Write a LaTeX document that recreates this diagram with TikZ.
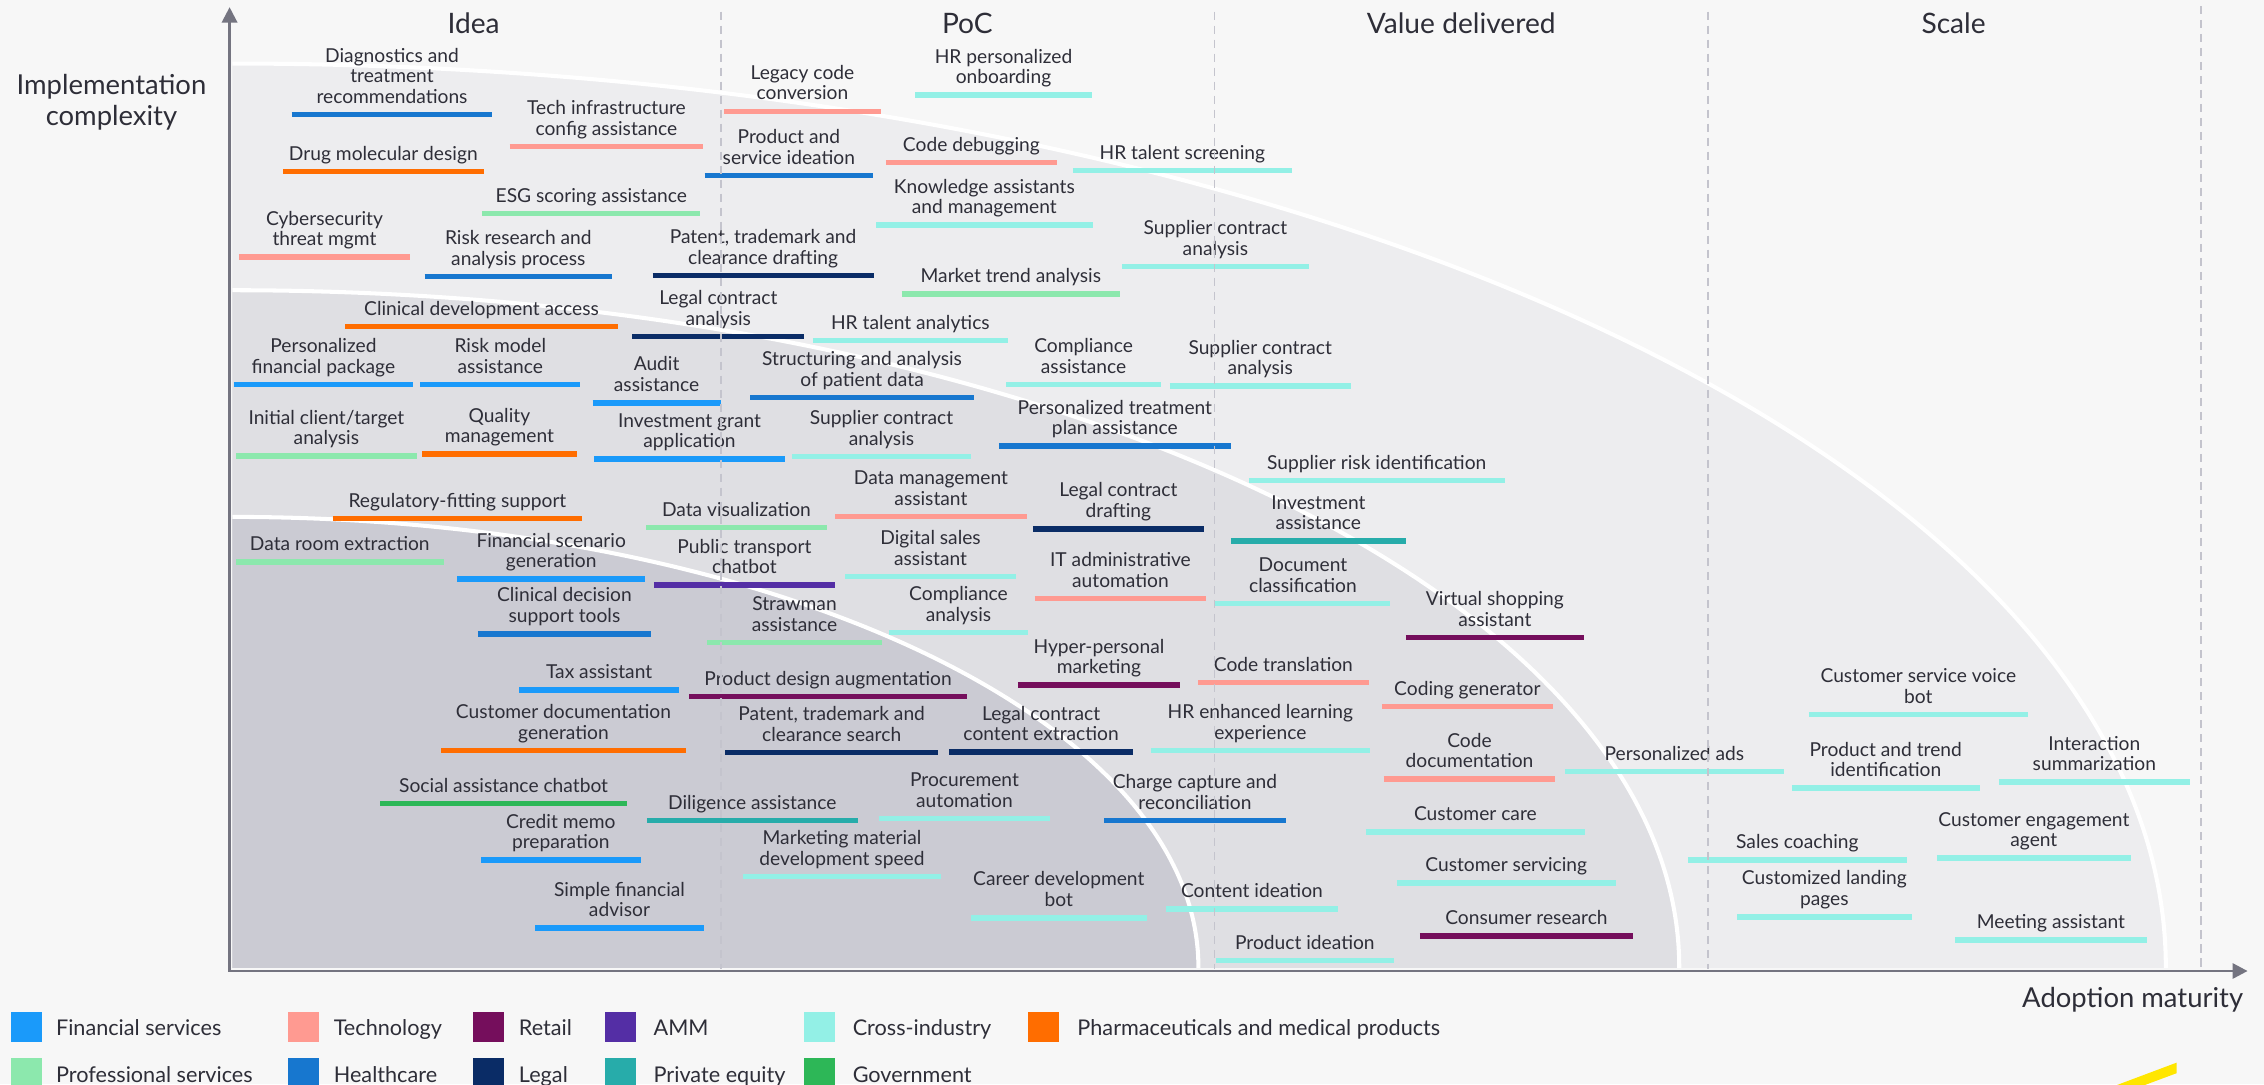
\documentclass[tikz,border=0pt]{standalone}
\usepackage{fontspec}
\setmainfont{Lato}
\usetikzlibrary{arrows.meta}
\definecolor{pagebg}{HTML}{F7F7F7}
\definecolor{regA}{HTML}{EDEDEF}
\definecolor{regB}{HTML}{DFDFE3}
\definecolor{regC}{HTML}{CBCBD3}
\definecolor{ctext}{HTML}{2E2E38}
\definecolor{caxis}{HTML}{747480}
\definecolor{cdiv}{HTML}{C4C4CD}
\definecolor{cfin}{HTML}{1A9AFA}
\definecolor{ctech}{HTML}{FF9A91}
\definecolor{cretail}{HTML}{750E5C}
\definecolor{camm}{HTML}{542EA5}
\definecolor{ccross}{HTML}{93F0E6}
\definecolor{cpharma}{HTML}{FF6D00}
\definecolor{cprof}{HTML}{8CE8AD}
\definecolor{chc}{HTML}{1777CF}
\definecolor{clegal}{HTML}{0A2C66}
\definecolor{cpe}{HTML}{27ACAA}
\definecolor{cgov}{HTML}{2DB757}
\definecolor{cyell}{HTML}{FFE600}
\newcommand\uc[6]{%
  \draw[usebar,#2] (#3,#5) -- (#4,#5);
  \node[lbl] (#1) at ({(#3+#4)/2},{#5-3.3}) {#6\strut};}
\begin{document}
\begin{tikzpicture}[x=1pt,y=-1pt,
  usebar/.style={line width=3.7pt},
  lbl/.style={anchor=south,inner sep=0pt,align=center,text=ctext,font=\fontsize{13.3}{14.3}\selectfont},
  head/.style={anchor=base,inner sep=0pt,text=ctext,font=\fontsize{19.5}{22}\selectfont},
  axtitle/.style={inner sep=0pt,align=center,text=ctext,font=\fontsize{19}{22}\selectfont},
  leg/.style={anchor=base west,inner sep=0pt,text=ctext,font=\fontsize{15}{17}\selectfont},
  arcline/.style={draw=white,line width=2.8pt},
  divider/.style={draw=cdiv,line width=1.1pt,dash pattern=on 5.8pt off 3.9pt},
  axisline/.style={draw=caxis,line width=1.6pt}]
\useasboundingbox (0,0) rectangle (1568,751);
\fill[pagebg] (0,0) rectangle (1568,751);
% regions
\begin{scope}
\clip (161,0) rectangle (1568,670);
\fill[regA] (161,670) ellipse [x radius=1339, y radius=626];
\draw[arcline] (161,670) ellipse [x radius=1339, y radius=626];
\fill[regB] (161,670) ellipse [x radius=1002, y radius=469];
\draw[arcline] (161,670) ellipse [x radius=1002, y radius=469];
\fill[regC] (161,670) ellipse [x radius=669, y radius=312];
\draw[arcline] (161,670) ellipse [x radius=669, y radius=312];
\end{scope}
% items
\uc{t1}{chc}{202}{341}{79.5}{Diagnostics and\\treatment\\recommendations}
\uc{t2}{ctech}{353}{487}{101.5}{Tech infrastructure\\config assistance}
\uc{t3}{cpharma}{196}{335}{119}{Drug molecular design}
\uc{t4}{cprof}{334}{485}{148}{ESG scoring assistance}
\uc{t5}{ctech}{165.5}{284}{178}{Cybersecurity\\threat mgmt}
\uc{t6}{chc}{294}{424}{191.5}{Risk research and\\analysis process}
\uc{t7}{clegal}{452}{605}{191}{Patent, trademark and\\clearance drafting}
\uc{t8}{cpharma}{239}{428}{226}{Clinical development access}
\uc{t9}{clegal}{438}{557}{233}{Legal contract\\analysis}
\uc{t10}{cfin}{162}{286}{266.5}{Personalized\\financial package}
\uc{t11}{cfin}{291}{402}{266.5}{Risk model\\assistance}
\uc{t12}{cfin}{410.5}{499}{279}{Audit\\assistance}
\uc{t13}{ctech}{501.5}{610}{77}{Legacy code\\conversion}
\uc{t14}{ccross}{634}{756}{65.8}{HR personalized\\onboarding}
\uc{t15}{chc}{488}{604.7}{121.7}{Product and\\service ideation}
\uc{t16}{ctech}{613.6}{732}{112.7}{Code debugging}
\uc{t17}{ccross}{743}{894.7}{118.2}{HR talent screening}
\uc{t18}{ccross}{606.8}{756.7}{155.8}{Knowledge assistants\\and management}
\uc{t19}{ccross}{777}{906.5}{184.7}{Supplier contract\\analysis}
\uc{t20}{cprof}{624.6}{775.6}{203.6}{Market trend analysis}
\uc{t21}{ccross}{563}{698}{236}{HR talent analytics}
\uc{t22}{ccross}{697}{804}{266.4}{Compliance\\assistance}
\uc{t23}{ccross}{810}{935.6}{267.3}{Supplier contract\\analysis}
\uc{t24}{chc}{519.6}{674.5}{275.4}{Structuring and analysis\\of patient data}
\uc{t25}{cprof}{163.5}{288.6}{315.8}{Initial client/target\\analysis}
\uc{t26}{cpharma}{292.4}{399.4}{314.4}{Quality\\management}
\uc{t27}{cfin}{411.5}{543.6}{317.9}{Investment grant\\application}
\uc{t28}{ccross}{548.5}{672.5}{316.3}{Supplier contract\\analysis}
\uc{t29}{chc}{691.8}{852.5}{308.9}{Personalized treatment\\plan assistance}
\uc{t30}{ccross}{865}{1042}{332.9}{Supplier risk identification}
\uc{t31}{cpharma}{230.6}{403}{359.2}{Regulatory-fitting support}
\uc{t32}{cprof}{447.5}{572.6}{365.4}{Data visualization}
\uc{t33}{ctech}{578.3}{711.2}{357.8}{Data management\\assistant}
\uc{t34}{clegal}{715.4}{833.8}{366.3}{Legal contract\\drafting}
\uc{t35}{cpe}{852.5}{973.7}{374.7}{Investment\\assistance}
\uc{t36}{cprof}{163.5}{307.2}{389.2}{Data room extraction}
\uc{t37}{cfin}{316.6}{446.9}{401}{Financial scenario\\generation}
\uc{t38}{camm}{452.8}{578.3}{405.1}{Public transport\\chatbot}
\uc{t39}{ccross}{585.3}{703.7}{399.4}{Digital sales\\assistant}
\uc{t40}{ctech}{716.8}{835.2}{414.6}{IT administrative\\automation}
\uc{t41}{ccross}{841.8}{963}{418}{Document\\classification}
\uc{t42}{chc}{331}{450.8}{439}{Clinical decision\\support tools}
\uc{t43}{cprof}{489.7}{610.8}{445}{Strawman\\assistance}
\uc{t44}{ccross}{615.5}{712.2}{438.1}{Compliance\\analysis}
\uc{t45}{cretail}{973.7}{1097}{441.6}{Virtual shopping\\assistant}
\uc{t46}{cretail}{705}{817.2}{474.4}{Hyper-personal\\marketing}
\uc{t47}{ctech}{829.7}{948}{472.8}{Code translation}
\uc{t48}{cfin}{359.6}{470.3}{477.8}{Tax assistant}
\uc{t49}{cretail}{477.3}{669.7}{482.5}{Product design augmentation}
\uc{t50}{ctech}{957}{1075.5}{489.4}{Coding generator}
\uc{t51}{ccross}{1252.8}{1404.4}{494.9}{Customer service voice\\bot}
\uc{t52}{cpharma}{305.5}{475}{520}{Customer documentation\\generation}
\uc{t53}{clegal}{502.2}{649.8}{521}{Patent, trademark and\\clearance search}
\uc{t54}{clegal}{657.4}{784.7}{520.8}{Legal contract\\content extraction}
\uc{t55}{ccross}{797}{948.8}{519.9}{HR enhanced learning\\experience}
\uc{t56}{ctech}{958.5}{1077}{539.5}{Code\\documentation}
\uc{t57}{ccross}{1083.8}{1235.5}{534.4}{Personalized ads}
\uc{t58}{ccross}{1241}{1371}{545.7}{Product and trend\\identification}
\uc{t59}{ccross}{1384.4}{1516.6}{541.6}{Interaction\\summarization}
\uc{t60}{cgov}{263.2}{434.4}{556.6}{Social assistance chatbot}
\uc{t61}{cpe}{448}{594}{568.4}{Diligence assistance}
\uc{t62}{ccross}{608.7}{727.2}{567}{Procurement\\automation}
\uc{t63}{chc}{764.6}{890.6}{568.4}{Charge capture and\\reconciliation}
\uc{t64}{ccross}{946}{1097.6}{576.2}{Customer care}
\uc{t65}{cfin}{333}{443.8}{595.6}{Credit memo\\preparation}
\uc{t66}{ccross}{514.6}{651.7}{607.1}{Marketing material\\development speed}
\uc{t67}{ccross}{1169}{1320.6}{595.6}{Sales coaching}
\uc{t68}{ccross}{1341.4}{1475.8}{594.2}{Customer engagement\\agent}
\uc{t69}{ccross}{967.4}{1119}{611.5}{Customer servicing}
\uc{t70}{ccross}{1203}{1324}{635}{Customized landing\\pages}
\uc{t71}{ccross}{807.5}{926.6}{629.5}{Content ideation}
\uc{t72}{ccross}{672.5}{794.1}{635.7}{Career development\\bot}
\uc{t73}{cfin}{370.6}{487.5}{642.7}{Simple financial\\advisor}
\uc{t74}{cretail}{983.4}{1131}{648.2}{Consumer research}
\uc{t75}{ccross}{1353.9}{1486.9}{651}{Meeting assistant}
\uc{t76}{ccross}{842}{965.4}{665.3}{Product ideation}
% dividers
\draw[divider] (499.4,8) -- (499.4,671);
\draw[divider] (841.1,8) -- (841.1,671);
\draw[divider] (1182.8,8) -- (1182.8,671);
\draw[divider] (1524.2,4) -- (1524.2,671);
% axes
\coordinate (O) at (159,672.5);
\coordinate (ytip) at (159,5);
\coordinate (xtip) at (1556.6,672.5);
\draw[axisline,{Triangle[width=10.6pt,length=10.6pt]}-{Triangle[width=10.6pt,length=10.4pt]}] (ytip) -- (O) -- (xtip);
% headings
\node[head] (hidea) at (328,23.5) {Idea};
\node[head] (hpoc) at (670,23.5) {PoC};
\node[head] (hval) at (1012,23.5) {Value delivered};
\node[head] (hscale) at (1353,23.2) {Scale};
\node[axtitle,anchor=base] (ytitle) at (77.2,87.2) {Implementation\\complexity};
\node[axtitle,anchor=base east] (xtitle) at (1553.7,697.6) {Adoption maturity};
% legend
\fill[cfin] (7.4,701) rectangle (29,722);
\node[leg] (lfin) at (38.6,717.4) {Financial services};
\fill[ctech] (199.4,701) rectangle (220.6,722);
\node[leg] (ltech) at (231,717.4) {Technology};
\fill[cretail] (327.6,701) rectangle (349,722);
\node[leg] (lretail) at (359.2,717.4) {Retail};
\fill[camm] (419,701) rectangle (440.4,722);
\node[leg] (lamm) at (452.5,717.4) {AMM};
\fill[ccross] (556.8,701) rectangle (578.3,722);
\node[leg] (lcross) at (590.4,717.4) {Cross-industry};
\fill[cpharma] (712,701) rectangle (733.4,722);
\node[leg] (lpharma) at (746,717.4) {Pharmaceuticals and medical products};
\fill[cprof] (7.4,732.7) rectangle (29,754);
\node[leg] (lprof) at (38.6,749.9) {Professional services};
\fill[chc] (199.4,732.7) rectangle (220.6,754);
\node[leg] (lhc) at (231,749.9) {Healthcare};
\fill[clegal] (327.6,732.7) rectangle (349,754);
\node[leg] (llegal) at (359.2,749.9) {Legal};
\fill[cpe] (419,732.7) rectangle (440.4,754);
\node[leg] (lpe) at (452.5,749.9) {Private equity};
\fill[cgov] (556.8,732.7) rectangle (578.3,754);
\node[leg] (lgov) at (590.4,749.9) {Government};
% logo beam
\fill[cyell] (1464.7,752) -- (1507.4,736) -- (1507.4,743.3) -- (1484,752) -- cycle;
\end{tikzpicture}
\end{document}
